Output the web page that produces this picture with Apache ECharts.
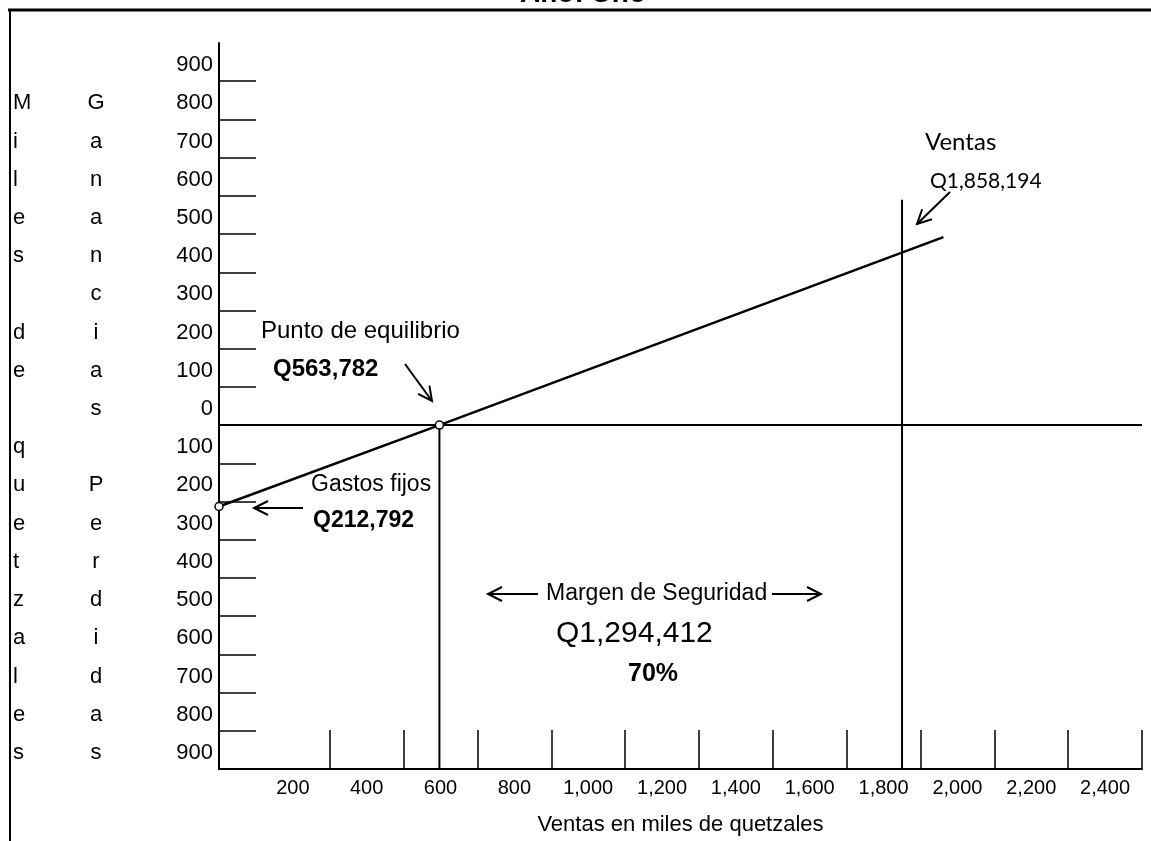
<!DOCTYPE html>
<html><head><meta charset="utf-8">
<script src="https://cdn.jsdelivr.net/npm/echarts@6/dist/echarts.min.js"></script>
<style>html,body{margin:0;padding:0;background:#fff}#c{width:1151px;height:841px}</style>
</head><body><div id="c"></div>
<script>
// ---- data (thousands of quetzales) ----
const yTickLabels = ['900','800','700','600','500','400','300','200','100','0','100','200','300','400','500','600','700','800','900'];
const yRowValues = [950,850,750,650,550,450,350,250,150,50,-50,-150,-250,-350,-450,-550,-650,-750,-850];
const milesLetters = ['','M','i','l','e','s','','d','e','','q','u','e','t','z','a','l','e','s'];
const gananciasLetters = ['','G','a','n','a','n','c','i','a','s','','P','e','r','d','i','d','a','s'];
const yTickValues = [-800,-700,-600,-500,-400,-300,-200,-100,100,200,300,400,500,600,700,800,900];
const xTickValues = [300,500,700,900,1100,1300,1500,1700,1900,2100,2300,2500];
const xLabelValues = [200,400,600,800,1000,1200,1400,1600,1800,2000,2200,2400];
// positions as drawn in the picture
const equilibrioX = 597;
const ventasX = 1850;
const ventasLineTop = 590;
const utilidadLine = [[0,-213],[597,0],[1962,492]];

const FONT = "'Liberation Sans', Arial, sans-serif";

function fmtThousands(v){ return String(v).replace(/\B(?=(\d{3})+(?!\d))/g, ','); }

function arrow(x1,y1,x2,y2){
  const dx=x2-x1, dy=y2-y1, L=Math.hypot(dx,dy), ux=dx/L, uy=dy/L;
  const h=14, w=7, bx=x2-ux*h, by=y2-uy*h, px=-uy, py=ux;
  return [
    {type:'line', shape:{x1:x1,y1:y1,x2:x2,y2:y2}, style:{stroke:'#000', lineWidth:2}},
    {type:'polyline', shape:{points:[[bx+px*w,by+py*w],[x2,y2],[bx-px*w,by-py*w]]}, style:{stroke:'#000', lineWidth:2, fill:null}}
  ];
}
function txt(x,y,text,font,align){
  return {type:'text', x:x, y:y, style:{text:text, font:font, fill:'#000', align:align||'left', verticalAlign:'middle'}};
}
const richRow = {r:{fontFamily:FONT, fontSize:22, color:'#000', padding:[6,0,0,0]}};

const chart = echarts.init(document.getElementById('c'));
const letterAxis = (letters, offset, align) => ({
  type:'value', min:-900, max:1000, interval:100, position:'left', offset:offset,
  axisLine:{show:false, onZero:false}, axisTick:{show:false}, splitLine:{show:false},
  axisLabel:{customValues:yRowValues, formatter:v=>{const s=letters[yRowValues.indexOf(v)]; return s?'{r|'+s+'}':'';},
    align:align, margin:0, rich:richRow, fontFamily:FONT, fontSize:22, color:'#000'}
});

chart.setOption({
  animation:false,
  grid:{left:219, right:9, top:43, bottom:72, containLabel:false},
  xAxis:{
    type:'value', min:0, max:2500,
    axisLine:{show:true, onZero:false, lineStyle:{color:'#000', width:2}},
    axisTick:{show:true, inside:true, length:39, customValues:xTickValues, lineStyle:{color:'#000', width:1.5}},
    axisLabel:{customValues:xLabelValues, formatter:v=>fmtThousands(v), fontFamily:FONT, fontSize:20, color:'#000', margin:9},
    splitLine:{show:false},
    name:'Ventas en miles de quetzales', nameLocation:'middle', nameGap:45,
    nameTextStyle:{fontFamily:FONT, fontSize:22, color:'#000'}
  },
  yAxis:[
    {type:'value', min:-900, max:1000, interval:100,
     axisLine:{show:true, onZero:false, lineStyle:{color:'#000', width:2}},
     axisTick:{show:true, inside:true, length:37, customValues:yTickValues, lineStyle:{color:'#000', width:1.5}},
     axisLabel:{customValues:yRowValues, formatter:v=>'{r|'+yTickLabels[yRowValues.indexOf(v)]+'}', rich:richRow,
       fontFamily:FONT, fontSize:22, color:'#000', margin:6},
     splitLine:{show:false}},
    letterAxis(milesLetters, 206, 'left'),
    letterAxis(gananciasLetters, 123, 'center')
  ],
  series:[
    {type:'line', name:'cero', data:[[0,0],[2500,0]], symbol:'none', clip:false, lineStyle:{color:'#000', width:2}, z:2},
    {type:'line', name:'equilibrio', data:[[equilibrioX,-900],[equilibrioX,0]], symbol:'none', lineStyle:{color:'#000', width:2}, z:2},
    {type:'line', name:'ventas', data:[[ventasX,-900],[ventasX,ventasLineTop]], symbol:'none', lineStyle:{color:'#000', width:2}, z:2},
    {type:'line', name:'utilidad', clip:false, z:5,
     data:[
       {value:utilidadLine[0], symbol:'circle', symbolSize:8},
       {value:utilidadLine[1], symbol:'circle', symbolSize:8},
       {value:utilidadLine[2], symbol:'none'}
     ],
     symbol:'none', lineStyle:{color:'#000', width:2.5},
     itemStyle:{color:'#fff', borderColor:'#000', borderWidth:1.5}}
  ],
  graphic:[
    {type:'line', shape:{x1:8,y1:10,x2:1151,y2:10}, style:{stroke:'#000', lineWidth:3}},
    {type:'line', shape:{x1:10,y1:9,x2:10,y2:841}, style:{stroke:'#000', lineWidth:2}},
    txt(583,-6,'Año: Uno','bold 28px '+FONT,'center'),
    txt(261,331,'Punto de equilibrio','24px '+FONT),
    txt(273,369,'Q563,782','bold 24px '+FONT),
    ...arrow(405,364,432,401),
    txt(311,485,'Gastos fijos','23px '+FONT),
    txt(313,521,'Q212,792','bold 23px '+FONT),
    ...arrow(303,508,254,508),
    txt(925,142,'Ventas','24px Lato, '+FONT),
    txt(930,181,'Q1,858,194','21px Lato, '+FONT),
    ...arrow(950,192,917,224),
    txt(546,594,'Margen de Seguridad','23px '+FONT),
    ...arrow(538,594,488,594),
    ...arrow(772,594,821,594),
    txt(556,634,'Q1,294,412','30px '+FONT),
    txt(628,674,'70%','bold 25px '+FONT)
  ]
});
</script></body></html>
